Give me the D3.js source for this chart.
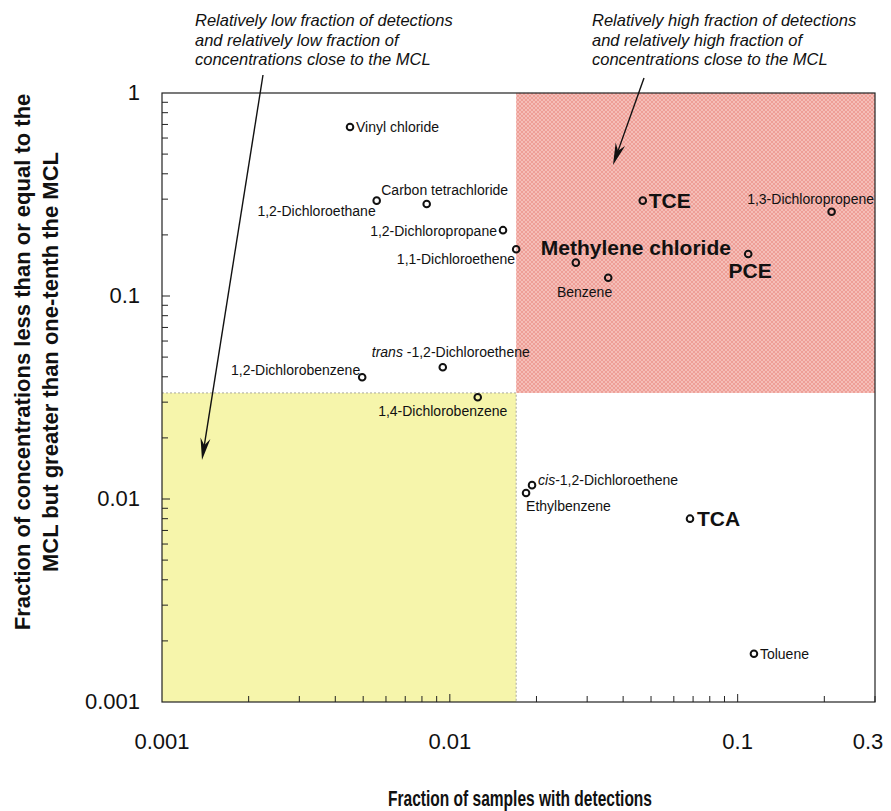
<!DOCTYPE html>
<html>
<head>
<meta charset="utf-8">
<script src="https://cdn.jsdelivr.net/npm/d3@7"></script>
<style>
  html, body { margin: 0; padding: 0; background: #fff; }
  svg { display: block; font-family: "Liberation Sans", Arial, sans-serif; }
</style>
</head>
<body>
<div id="chart"></div>
<script>
// --- data ---
const compounds = [
  'Vinyl chloride', '1,2-Dichloroethane', 'Carbon tetrachloride', '1,2-Dichloropropane',
  '1,1-Dichloroethene', 'TCE', '1,3-Dichloropropene', 'Methylene chloride', 'Benzene', 'PCE',
  'trans-1,2-Dichloroethene', '1,2-Dichlorobenzene', '1,4-Dichlorobenzene',
  'cis-1,2-Dichloroethene', 'Ethylbenzene', 'TCA', 'Toluene'
];
const fracDetections = [
  0.0045, 0.00557, 0.00831, 0.0153,
  0.0170, 0.0468, 0.212, 0.0274, 0.0355, 0.1088,
  0.00945, 0.00496, 0.0125,
  0.0193, 0.0184, 0.0683, 0.1139
];
const fracNearMCL = [
  0.680, 0.295, 0.284, 0.211,
  0.170, 0.295, 0.260, 0.146, 0.123, 0.161,
  0.0446, 0.0398, 0.0317,
  0.0117, 0.0107, 0.0080, 0.00173
];
const boldCompounds = ['TCE', 'Methylene chloride', 'PCE', 'TCA'];
const xTickLabels = [0.001, 0.01, 0.1, 0.3];
const yTickLabels = [0.001, 0.01, 0.1, 1];
const detectionCut = 0.017;
const mclCut = 0.0333;
const noteLow = ['Relatively low fraction of detections', 'and relatively low fraction of', 'concentrations close to the MCL'];
const noteHigh = ['Relatively high fraction of detections', 'and relatively high fraction of', 'concentrations close to the MCL'];

// label placement relative to the point: [dx, dy, anchor]
const labelPos = {
  'Vinyl chloride': [6, 0, 'start'],
  '1,2-Dichloroethane': [-1, 10, 'end'],
  'Carbon tetrachloride': [18, -14, 'middle'],
  '1,2-Dichloropropane': [-6, 1, 'end'],
  '1,1-Dichloroethene': [-1, 10, 'end'],
  'TCE': [6, 0, 'start'],
  '1,3-Dichloropropene': [-21, -13, 'middle'],
  'Methylene chloride': [60, -15, 'middle'],
  'Benzene': [4, 14, 'end'],
  'PCE': [2, 17, 'middle'],
  'trans-1,2-Dichloroethene': [8, -15, 'middle'],
  '1,2-Dichlorobenzene': [-2, -7, 'end'],
  '1,4-Dichlorobenzene': [-35, 14, 'middle'],
  'cis-1,2-Dichloroethene': [6, -5, 'start'],
  'Ethylbenzene': [0, 13, 'start'],
  'TCA': [7, 0, 'start'],
  'Toluene': [6, 0, 'start']
};

const W = 891, H = 811;
const margin = { top: 93, right: 16, bottom: 109, left: 162 };

const svg = d3.select('#chart').append('svg')
  .attr('width', W).attr('height', H);

const x = d3.scaleLog().domain([0.001, 0.3]).range([margin.left, W - margin.right]);
const y = d3.scaleLog().domain([0.001, 1]).range([H - margin.bottom, margin.top]);

const defs = svg.append('defs');
const pat = defs.append('pattern')
  .attr('id', 'hatch').attr('width', 4).attr('height', 4)
  .attr('patternUnits', 'userSpaceOnUse');
pat.append('rect').attr('width', 4).attr('height', 4).attr('fill', '#ee9f97');
pat.append('path').attr('d', 'M0,0 L4,4 M4,0 L0,4')
  .attr('stroke', '#f8cbc5').attr('stroke-width', 0.7);

const x0 = x.range()[0], x1 = x.range()[1];
const yb = y.range()[0], yt = y.range()[1];

// quadrants
svg.append('rect')
  .attr('x', x(detectionCut)).attr('y', yt)
  .attr('width', x1 - x(detectionCut)).attr('height', y(mclCut) - yt)
  .attr('fill', 'url(#hatch)');
svg.append('rect')
  .attr('x', x0).attr('y', y(mclCut))
  .attr('width', x(detectionCut) - x0).attr('height', yb - y(mclCut))
  .attr('fill', '#f6f5ab');
svg.append('path')
  .attr('d', `M${x0},${y(mclCut)} H${x(detectionCut)} V${yb}`)
  .attr('fill', 'none').attr('stroke', '#a8a8a0').attr('stroke-width', 1)
  .attr('stroke-dasharray', '2,2');

// frame
svg.append('rect')
  .attr('x', x0).attr('y', yt).attr('width', x1 - x0).attr('height', yb - yt)
  .attr('fill', 'none').attr('stroke', '#222').attr('stroke-width', 1.2);

// ticks (inside)
const isMajor = v => Math.abs(Math.log10(v) - Math.round(Math.log10(v))) < 1e-6;
const xt = x.ticks().filter(v => v <= 0.3 + 1e-9 && v > 0.001 + 1e-9);
svg.selectAll('line.xtick').data(xt).join('line')
  .attr('class', 'xtick')
  .attr('x1', d => x(d)).attr('x2', d => x(d))
  .attr('y1', yb).attr('y2', d => yb - (isMajor(d) ? 8 : 6))
  .attr('stroke', '#222').attr('stroke-width', 1);
const yt2 = y.ticks().filter(v => v < 1 - 1e-9 && v > 0.001 + 1e-9);
svg.selectAll('line.ytick').data(yt2).join('line')
  .attr('class', 'ytick')
  .attr('x1', x0).attr('x2', d => x0 + (isMajor(d) ? 8 : 6))
  .attr('y1', d => y(d)).attr('y2', d => y(d))
  .attr('stroke', '#222').attr('stroke-width', 1);

// tick labels
svg.selectAll('text.xlab').data(xTickLabels).join('text')
  .attr('class', 'xlab')
  .attr('x', d => x(d) - (d === 0.3 ? 7 : 0)).attr('y', yb + 47)
  .attr('text-anchor', 'middle').attr('font-size', 22).attr('fill', '#111')
  .text(d => String(d));
svg.selectAll('text.ylab').data(yTickLabels).join('text')
  .attr('class', 'ylab')
  .attr('x', x0 - 22).attr('y', d => y(d) + 7)
  .attr('text-anchor', 'end').attr('font-size', 22).attr('fill', '#111')
  .text(d => String(d));

// axis titles
svg.append('text')
  .attr('x', 520).attr('y', 806)
  .attr('text-anchor', 'middle').attr('font-size', 22).attr('font-weight', 700)
  .attr('textLength', 264).attr('lengthAdjust', 'spacingAndGlyphs')
  .attr('fill', '#111')
  .text('Fraction of samples with detections');
const yTitle = svg.append('g').attr('transform', 'translate(0,362) rotate(-90)');
yTitle.append('text').attr('x', 0).attr('y', 30)
  .attr('text-anchor', 'middle').attr('font-size', 22).attr('font-weight', 700).attr('fill', '#111')
  .text('Fraction of concentrations less than or equal to the');
yTitle.append('text').attr('x', 0).attr('y', 58)
  .attr('text-anchor', 'middle').attr('font-size', 22).attr('font-weight', 700).attr('fill', '#111')
  .text('MCL but greater than one-tenth the MCL');

// points
const pts = compounds.map((name, i) => ({ name, fx: fracDetections[i], fy: fracNearMCL[i] }));
svg.selectAll('circle.pt').data(pts).join('circle')
  .attr('class', 'pt')
  .attr('cx', d => x(d.fx)).attr('cy', d => y(d.fy))
  .attr('r', 3.3).attr('fill', 'none').attr('stroke', '#111').attr('stroke-width', 2);

// point labels
pts.forEach(d => {
  const [dx, dy, anchor] = labelPos[d.name];
  const bold = boldCompounds.includes(d.name);
  const t = svg.append('text')
    .attr('x', x(d.fx) + dx).attr('y', y(d.fy) + dy + (bold ? 7 : 5))
    .attr('text-anchor', anchor)
    .attr('font-size', bold ? 21 : 14)
    .attr('font-weight', bold ? 700 : 400)
    .attr('fill', '#111');
  const m = d.name.match(/^(cis|trans)-(.*)$/);
  if (m) {
    t.append('tspan').attr('font-style', 'italic').text(m[1]);
    t.append('tspan').text((m[1] === 'trans' ? ' -' : '-') + m[2]);
  } else {
    t.text(d.name);
  }
});

// annotations
function note(lines, tx) {
  svg.append('g').selectAll('text').data(lines).join('text')
    .attr('x', tx).attr('y', (d, i) => 26 + i * 19.5)
    .attr('font-size', 16.5).attr('font-style', 'italic').attr('fill', '#111')
    .text(d => d);
}
note(noteLow, 195);
note(noteHigh, 592);

function arrow(xa, ya, xb, yb2) {
  const ang = Math.atan2(yb2 - ya, xb - xa);
  const L = 22, w = 5, notch = 15;
  const ux = Math.cos(ang), uy = Math.sin(ang);
  const px = -uy, py = ux;
  const bx = xb - ux * L, by = yb2 - uy * L;
  const nx = xb - ux * notch, ny = yb2 - uy * notch;
  svg.append('line')
    .attr('x1', xa).attr('y1', ya).attr('x2', nx).attr('y2', ny)
    .attr('stroke', '#111').attr('stroke-width', 1.4);
  svg.append('path')
    .attr('d', `M${xb},${yb2} L${bx + px * w},${by + py * w} L${nx},${ny} L${bx - px * w},${by - py * w} Z`)
    .attr('fill', '#111');
}
arrow(263, 75, 202, 460);
arrow(644, 78, 613, 165);
</script>
</body>
</html>
